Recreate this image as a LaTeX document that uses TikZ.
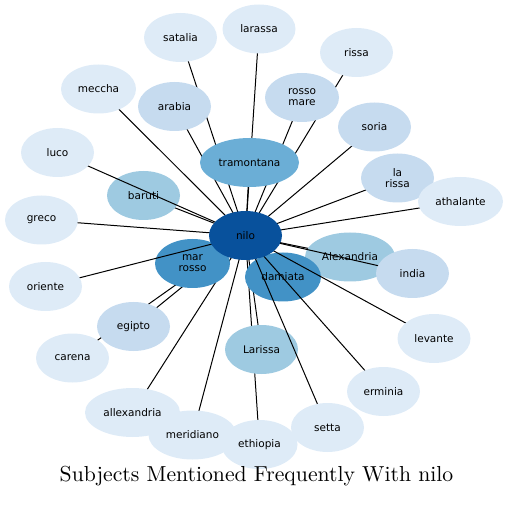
\documentclass[tikz,border=0pt]{standalone}
\usepackage{fontspec}
\usepackage{graphicx}
\newfontfamily\lblfont{DejaVu Sans}
\usetikzlibrary{shapes.geometric}
\definecolor{b1}{HTML}{DEEBF7}
\definecolor{b2}{HTML}{C6DBEF}
\definecolor{b3}{HTML}{9ECAE1}
\definecolor{b4}{HTML}{6BAED6}
\definecolor{b5}{HTML}{4292C6}
\definecolor{b7}{HTML}{08519C}
\tikzset{
  nd/.style={ellipse, draw=none, inner sep=0pt, minimum height=49pt, minimum width=73pt,
    align=center, font=\lblfont\fontsize{10.5}{12}\selectfont, text=black},
  edge/.style={draw=black, line width=1pt}
}
\newcommand\leafnode[5]{%
  \coordinate (p-#1) at (#2);
  \draw[edge] (p-nilo) -- (p-#1);
  \node[nd, fill=#3, minimum width=#4] (#1) at (p-#1) {#5};
}
\begin{document}
\begin{tikzpicture}[x=1pt,y=-1pt]
\useasboundingbox (0,0) rectangle (509,505);
\coordinate (p-nilo) at (245.5,235.5);
% upper group, behind tramontana
\leafnode{satalia}{180.5,37.5}{b1}{73pt}{satalia}
\leafnode{larassa}{259,29}{b1}{73pt}{larassa}
\leafnode{arabia}{174.5,106.5}{b2}{73pt}{arabia}
\leafnode{rissa}{356.5,52.5}{b1}{73pt}{rissa}
\leafnode{rossomare}{302,97.5}{b2}{74pt}{rosso\\[-1pt]mare}
\leafnode{tramontana}{249.5,162.5}{b4}{99pt}{tramontana}
% left group
\leafnode{meccha}{98.5,89}{b1}{75pt}{meccha}
\leafnode{greco}{41.5,220}{b1}{73pt}{greco}
\leafnode{baruti}{143.5,195.5}{b3}{73pt}{baruti}
\leafnode{luco}{57.5,152.5}{b1}{73pt}{luco}
% lower left
\leafnode{carena}{72.5,358}{b1}{73pt}{carena}
\leafnode{egipto}{133.5,326.5}{b2}{73pt}{egipto}
\leafnode{allexandria}{132.5,412.5}{b1}{95pt}{allexandria}
\leafnode{marrosso}{192.5,263.5}{b5}{75pt}{mar\\[-1pt]rosso}
\leafnode{oriente}{45.5,286.5}{b1}{73pt}{oriente}
% bottom
\leafnode{meridiano}{192.5,435}{b1}{88pt}{meridiano}
\leafnode{ethiopia}{259.5,444.5}{b1}{76pt}{ethiopia}
\leafnode{larissa}{261.5,349.5}{b3}{73pt}{Larissa}
% right
\leafnode{alexandria}{350,257}{b3}{90pt}{Alexandria}
\leafnode{damiata}{283,277}{b5}{76pt}{damiata}
\leafnode{india}{412.5,273.5}{b2}{73pt}{india}
\leafnode{setta}{327.5,427.5}{b1}{73pt}{setta}
\leafnode{erminia}{383.5,391.5}{b1}{73pt}{erminia}
\leafnode{levante}{434,338.5}{b1}{73pt}{levante}
\leafnode{soria}{374.5,127}{b2}{73pt}{soria}
\leafnode{larissa2}{397.5,178}{b2}{73pt}{la\\[-1pt]rissa}
\leafnode{athalante}{460.5,201.5}{b1}{85pt}{athalante}
% centre
\node[nd, fill=b7] (nilo) at (p-nilo) {nilo};
% title
\node[anchor=base, inner sep=0pt] (title) at (256.5,481) {\scalebox{2.17}{\fontsize{10}{12}\selectfont Subjects Mentioned Frequently With nilo}};
\end{tikzpicture}
\end{document}
